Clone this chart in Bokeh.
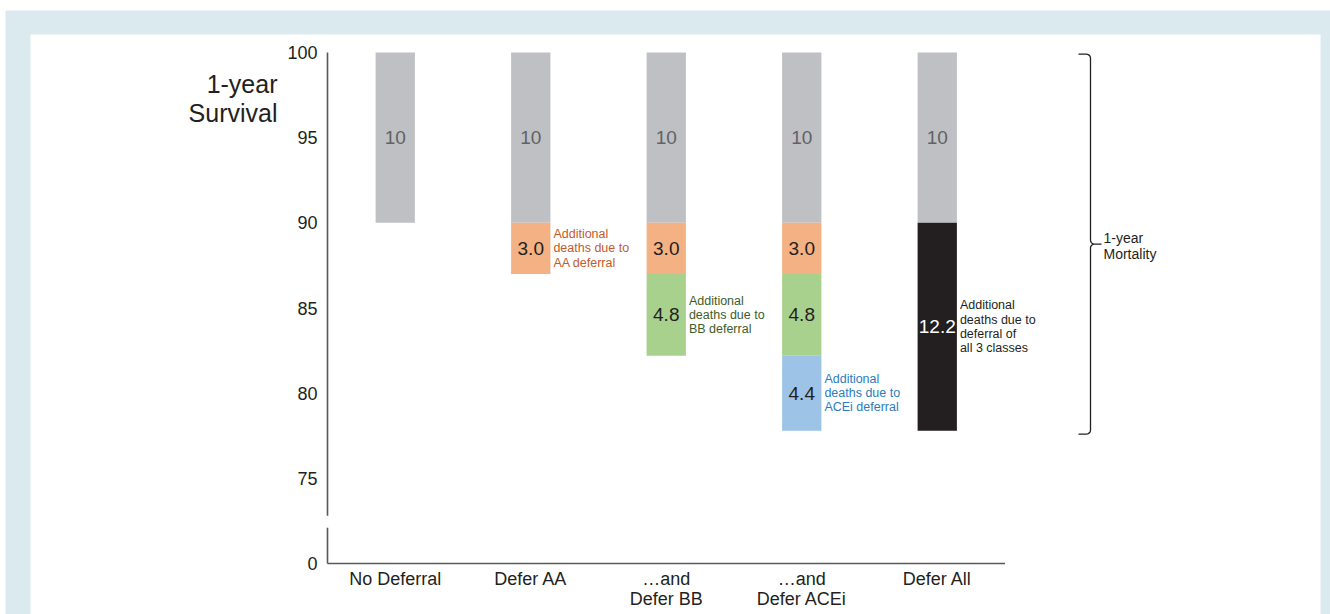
import numpy as np
from bokeh.plotting import figure
from bokeh.models import Range1d, FixedTicker, BoxAnnotation, ColumnDataSource
from bokeh.core.properties import value
from bokeh.embed import file_html
from bokeh.resources import INLINE

# ---------------- data ----------------
categories = ["No Deferral", "Defer AA", "\u2026and\nDefer BB", "\u2026and\nDefer ACEi", "Defer All"]
baseline_deaths = [10, 10, 10, 10, 10]
aa_deaths = [0, 3.0, 3.0, 3.0, 0]
bb_deaths = [0, 0, 4.8, 4.8, 0]
acei_deaths = [0, 0, 0, 4.4, 0]
all3_deaths = [0, 0, 0, 0, 12.2]
segment_values = [baseline_deaths, aa_deaths, bb_deaths, acei_deaths, all3_deaths]
segment_labels = ["10", "{:.1f}", "{:.1f}", "{:.1f}", "{:.1f}"]
survival_ticks = [0, 75, 80, 85, 90, 95, 100]
notes = ["Additional\ndeaths due to\nAA deferral",
         "Additional\ndeaths due to\nBB deferral",
         "Additional\ndeaths due to\nACEi deferral",
         "Additional\ndeaths due to\ndeferral of\nall 3 classes"]
note_segment = [1, 2, 3, 4]
note_category = [1, 2, 3, 4]

# ---------------- style ----------------
FONT = "Liberation Sans"
INK = "#231f20"
seg_colors = ["#bfc0c4", "#f4b183", "#a9d18e", "#9dc3e6", "#231f20"]
seg_text_colors = ["#616265", INK, INK, INK, "#ffffff"]
note_colors = ["#c55a26", "#3d5d29", "#2e7abd", INK]
BLUE_BG = "#dbeaef"

# ---------------- geometry (frame = whole canvas) ----------------
W, H = 1330, 614
ZERO_POS = 70.0            # plot position of the broken-axis "0"
TOP = 100.0
PY_TOP, PY_ZERO = 52, 563  # page pixels of 100 and of 0
KY = (PY_ZERO - PY_TOP) / (TOP - ZERO_POS)
Y_START = ZERO_POS - (H - PY_ZERO) / KY
Y_END = TOP + PY_TOP / KY
KX = 135.5
AXIS_PX = 327
X_START = -0.5 - AXIS_PX / KX
X_END = X_START + W / KX
BAR_W = 0.29
BREAK_HI, BREAK_LO = 72.8, 72.1


def xd(px):
    return X_START + px / KX


def yd(py):
    return Y_END - py / KY


p = figure(width=W, height=H, output_backend="svg", toolbar_location=None,
           x_range=Range1d(X_START, X_END), y_range=Range1d(Y_START, Y_END),
           min_border=0)
p.outline_line_color = None
p.grid.visible = False
p.background_fill_color = "white"
p.border_fill_color = "white"

# page frame (light blue band with white panel)
p.add_layout(BoxAnnotation(left=xd(5), right=xd(W + 5), top=yd(10), bottom=yd(H + 5),
                           fill_color=BLUE_BG, fill_alpha=1, line_color=None, level="underlay"))
p.add_layout(BoxAnnotation(left=xd(30), right=xd(1320), top=yd(34), bottom=yd(H + 5),
                           fill_color="white", fill_alpha=1, line_color=None, level="underlay"))

# ---------------- stacked bars ----------------
xs, tops, bottoms, fills = [], [], [], []
lx, ly, ltxt, lcol = [], [], [], []
seg_top = {}
for ci in range(len(categories)):
    cur = TOP
    for si, vals in enumerate(segment_values):
        v = vals[ci]
        if v <= 0:
            continue
        xs.append(ci); tops.append(cur); bottoms.append(cur - v); fills.append(seg_colors[si])
        lx.append(ci); ly.append(cur - v / 2)
        ltxt.append(segment_labels[si].format(v)); lcol.append(seg_text_colors[si])
        seg_top[(ci, si)] = (cur, cur - v)
        cur -= v

bars = ColumnDataSource(dict(x=xs, top=tops, bottom=bottoms, color=fills))
p.vbar(x="x", top="top", bottom="bottom", width=BAR_W, fill_color="color",
       line_color=None, source=bars)

labs = ColumnDataSource(dict(x=lx, y=ly, text=ltxt, color=lcol))
p.text(x="x", y="y", text="text", text_color="color", source=labs,
       text_font=value(FONT), text_font_size="19px", text_align="center",
       text_baseline="middle")

# notes to the right of the segments
nx, ny, nt, nc = [], [], [], []
for k, txt in enumerate(notes):
    t, b = seg_top[(note_category[k], note_segment[k])]
    nx.append(note_category[k] + BAR_W / 2 + 3 / KX)
    ny.append((t + b) / 2)
    nt.append(txt)
    nc.append(note_colors[k])
notes_src = ColumnDataSource(dict(x=nx, y=ny, text=nt, color=nc))
p.text(x="x", y="y", text="text", text_color="color", source=notes_src,
       text_font=value(FONT), text_font_size="12.5px", text_align="left",
       text_baseline="middle", text_line_height=1.02)

# ---------------- axes (drawn inside the frame) ----------------
ytick_pos = [ZERO_POS if t == 0 else t for t in survival_ticks]
p.yaxis.ticker = FixedTicker(ticks=ytick_pos)
p.yaxis.major_label_overrides = {pos: str(t) for pos, t in zip(ytick_pos, survival_ticks)}
p.xaxis.ticker = FixedTicker(ticks=list(range(len(categories))))
p.xaxis.major_label_overrides = {i: c for i, c in enumerate(categories)}
p.yaxis.fixed_location = -0.5
p.xaxis.fixed_location = ZERO_POS
for ax in (p.xaxis, p.yaxis):
    ax.axis_line_color = None
    ax.major_tick_line_color = None
    ax.minor_tick_line_color = None
    ax.major_label_text_font = FONT
    ax.major_label_text_font_size = "18px"
    ax.major_label_text_color = INK
p.yaxis.major_label_standoff = 4
p.xaxis.major_label_standoff = -1
p.xaxis.major_label_text_line_height = 1.03

# hand-drawn axis lines (broken y axis)
axis_x = -0.5
p.segment(x0=[axis_x, axis_x, axis_x], y0=[TOP, BREAK_LO, ZERO_POS],
          x1=[axis_x, axis_x, len(categories) - 0.5], y1=[BREAK_HI, ZERO_POS, ZERO_POS],
          line_color="#58595b", line_width=1.6)

# y title
p.text(x=[xd(277)], y=[yd(98)], text=["1-year\nSurvival"], text_align="right",
       text_baseline="middle", text_font=value(FONT), text_font_size="25px",
       text_color=INK, text_line_height=1.02)

# ---------------- brace for 1-year mortality ----------------
y_t = TOP - 0.1
y_b = min(bottoms) - 0.2
y_m = (y_t + y_b) / 2
bx0, bx1, bx2 = xd(1078), xd(1090), xd(1101)
rx, ry = 4 / KX, 4 / KY


def arc(cx, cy, a0, a1, n=8):
    a = np.radians(np.linspace(a0, a1, n))
    return list(cx + rx * np.cos(a)), list(cy + ry * np.sin(a))


px_, py_ = [bx0], [y_t]
for seg in [arc(bx1 - rx, y_t - ry, 90, 0), arc(bx1 + rx, y_m + ry, 180, 270),
            ([bx2], [y_m]),
            arc(bx1 + rx, y_m - ry, 90, 180), arc(bx1 - rx, y_b + ry, 0, -90)]:
    px_ += seg[0]; py_ += seg[1]
px_.append(bx0); py_.append(y_b)
p.line(px_, py_, line_color=INK, line_width=1.3)

p.text(x=[bx2 + 2 / KX], y=[y_m - 0.1], text=["1-year\nMortality"], text_color=INK,
       text_font=value(FONT), text_font_size="14px", text_align="left",
       text_baseline="middle", text_line_height=1.02)

open("out.html", "w").write(file_html(p, INLINE))
